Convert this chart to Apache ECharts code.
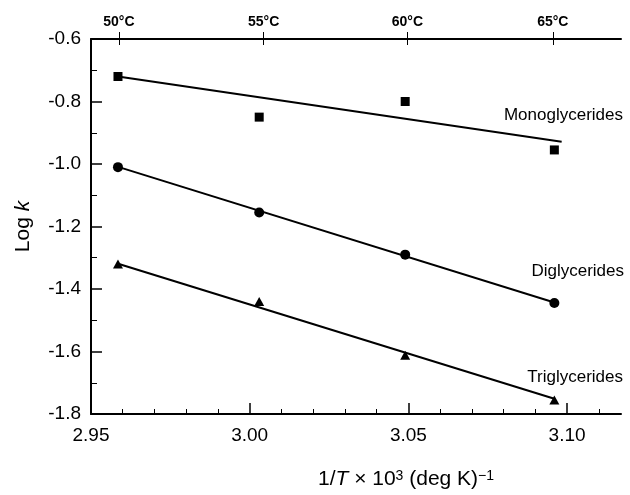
<!DOCTYPE html>
<html>
<head>
<meta charset="utf-8">
<script src="https://cdn.jsdelivr.net/npm/echarts@6/dist/echarts.min.js"></script>
<style>
	html, body { margin: 0; padding: 0; background: #fff; }
	#rate_chart { width: 630px; height: 495px; }
</style>
</head>
<body>
<div id="rate_chart"></div>
<script>
var invT = [2.9585, 3.003, 3.049, 3.096];
var monoLogK = [-0.72, -0.85, -0.80, -0.955];
var diLogK = [-1.01, -1.155, -1.29, -1.445];
var triLogK = [-1.32, -1.44, -1.612, -1.755];

// fitted lines, end points
var monoFitX = [2.9585, 3.0983];
var monoFitY = [-0.72, -0.929];
var diFitX = [2.9588, 3.096];
var diFitY = [-1.01, -1.443];
var triFitX = [2.9588, 3.096];
var triFitY = [-1.32, -1.751];

// axes
var xMajor = [2.95, 3.00, 3.05, 3.10];
var xMinor = [2.96, 2.97, 2.98, 2.99, 3.01, 3.02, 3.03, 3.04, 3.06, 3.07, 3.08, 3.09, 3.11];
var topTickX = [2.9588, 3.0044, 3.0497, 3.0955];
var topTickLabels = ['50°C', '55°C', '60°C', '65°C'];
var seriesNames = ['Monoglycerides', 'Diglycerides', 'Triglycerides'];

function pairs(xs, ys){
	var out = [];
	for (var i = 0; i < xs.length; i++) out.push([xs[i], ys[i]]);
	return out;
}

function loadChart(){
	var chart = echarts.init(document.getElementById('rate_chart'));
	var font = 'Liberation Sans, Arial, sans-serif';
	var black = '#000';
	var xMin = 2.95, xMax = 3.117;

	var option = {
		animation: false,
		textStyle: { fontFamily: font, color: black },
		grid: { left: 91, right: 9, top: 39, bottom: 78 },
		xAxis: [
			{
				type: 'value', position: 'bottom', min: xMin, max: xMax,
				axisLine: { onZero: false, lineStyle: { color: black, width: 2 } },
				axisTick: { inside: true, length: 11, customValues: xMajor, lineStyle: { color: black, width: 1.5 } },
				axisLabel: {
					customValues: xMajor, fontSize: 19, color: black, margin: 12, fontFamily: font,
					formatter: function(v){ return v.toFixed(2); }
				},
				splitLine: { show: false },
				name: '{a|1/}{i|T}{a| × 10}{s|3}{a| (deg K)}{s|−1}',
				nameLocation: 'middle',
				nameGap: 55,
				nameTextStyle: {
					padding: [0, 0, 0, 100],
					rich: {
						a: { fontSize: 21, fontFamily: font, color: black },
						i: { fontSize: 21, fontFamily: font, fontStyle: 'italic', color: black },
						s: { fontSize: 14, fontFamily: font, color: black, verticalAlign: 'top' }
					}
				}
			},
			{
				type: 'value', position: 'bottom', min: xMin, max: xMax,
				axisLine: { show: false },
				axisTick: { inside: true, length: 5, customValues: xMinor, lineStyle: { color: black, width: 1 } },
				axisLabel: { show: false },
				splitLine: { show: false }
			},
			{
				type: 'value', position: 'top', min: xMin, max: xMax,
				axisLine: { onZero: false, lineStyle: { color: black, width: 2 } },
				axisTick: { inside: false, length: 7, customValues: topTickX, lineStyle: { color: black, width: 1 } },
				axisLabel: {
					customValues: topTickX, fontSize: 14, fontWeight: 'bold', color: black, margin: 10, fontFamily: font,
					formatter: function(v){
						var best = 0;
						for (var i = 1; i < topTickX.length; i++) {
							if (Math.abs(topTickX[i] - v) < Math.abs(topTickX[best] - v)) best = i;
						}
						return topTickLabels[best];
					}
				},
				splitLine: { show: false }
			},
			{
				type: 'value', position: 'top', min: xMin, max: xMax,
				axisLine: { show: false },
				axisTick: { inside: true, length: 6, customValues: topTickX, lineStyle: { color: black, width: 1 } },
				axisLabel: { show: false },
				splitLine: { show: false }
			}
		],
		yAxis: {
			type: 'value', min: -1.8, max: -0.6, interval: 0.2,
			axisLine: { show: true, onZero: false, lineStyle: { color: black, width: 2 } },
			axisTick: { show: true, inside: true, length: 11, lineStyle: { color: black, width: 1.5 } },
			minorTick: { show: true, splitNumber: 2, length: 6, lineStyle: { color: black, width: 1 } },
			axisLabel: {
				fontSize: 19, color: black, margin: 10, fontFamily: font,
				formatter: function(v){ return v.toFixed(1); }
			},
			splitLine: { show: false },
			name: '{a|Log }{i|k}',
			nameLocation: 'middle',
			nameRotate: 90,
			nameGap: 57,
			nameTextStyle: {
				padding: [0, 0, 0, 0],
				rich: {
					a: { fontSize: 21, fontFamily: font, color: black },
					i: { fontSize: 21, fontStyle: 'italic', fontFamily: font, color: black }
				}
			}
		},
		graphic: [
			{ type: 'text', right: 7, top: 107, style: { text: seriesNames[0], font: '17px ' + font, fill: black } },
			{ type: 'text', right: 6, top: 263, style: { text: seriesNames[1], font: '17px ' + font, fill: black } },
			{ type: 'text', right: 7, top: 369, style: { text: seriesNames[2], font: '17px ' + font, fill: black } }
		],
		series: [
			{ name: seriesNames[0] + ' fit', type: 'line', data: pairs(monoFitX, monoFitY), showSymbol: false, lineStyle: { color: black, width: 2 } },
			{ name: seriesNames[1] + ' fit', type: 'line', data: pairs(diFitX, diFitY), showSymbol: false, lineStyle: { color: black, width: 2 } },
			{ name: seriesNames[2] + ' fit', type: 'line', data: pairs(triFitX, triFitY), showSymbol: false, lineStyle: { color: black, width: 2 } },
			{ name: seriesNames[0], type: 'scatter', data: pairs(invT, monoLogK), symbol: 'rect', symbolSize: 9, itemStyle: { color: black, opacity: 1 } },
			{ name: seriesNames[1], type: 'scatter', data: pairs(invT, diLogK), symbol: 'circle', symbolSize: 10, itemStyle: { color: black, opacity: 1 } },
			{ name: seriesNames[2], type: 'scatter', data: pairs(invT, triLogK), symbol: 'triangle', symbolSize: [10, 9], itemStyle: { color: black, opacity: 1 } }
		]
	};
	chart.setOption(option);
}
loadChart();
</script>
</body>
</html>
